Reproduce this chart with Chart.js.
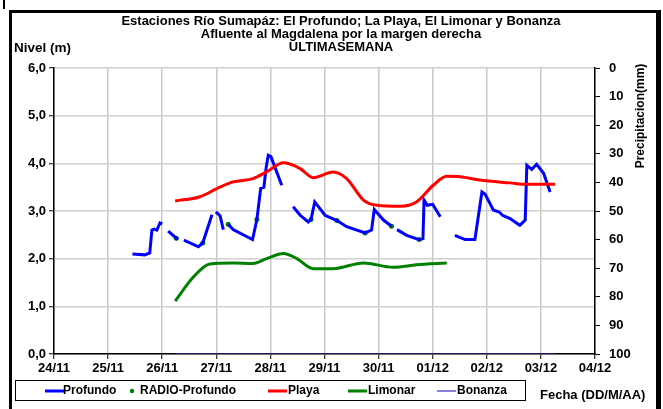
<!DOCTYPE html>
<html>
<head>
<meta charset="utf-8">
<script src="https://cdn.jsdelivr.net/npm/chart.js@4"></script>
<style>
  html, body { margin: 0; padding: 0; background: #fff; }
  #wrap { position: relative; width: 663px; height: 409px; }
</style>
</head>
<body>
<div id="wrap"><canvas id="myChart" width="663" height="409"></canvas></div>
<script>
// x = days since 24/11 00:00
const xLabels = ['24/11', '25/11', '26/11', '27/11', '28/11', '29/11', '30/11', '01/12', '02/12', '03/12', '04/12'];

// Profundo (null = gap in the record)
const profundoX = [1.45, 1.68, 1.77, 1.81, 1.85, 1.90, 1.96, 2.00, 2.05,
  2.11, 2.26, 2.29, 2.35,
  2.40, 2.67, 2.75, 2.92, 2.95,
  2.99, 3.07, 3.13, 3.18,
  3.22, 3.31, 3.67, 3.75, 3.82, 3.88, 3.92, 3.96, 4.01, 4.21, 4.30,
  4.42, 4.55, 4.70, 4.75, 4.82, 5.01, 5.23, 5.41, 5.75, 5.87, 5.92, 6.09, 6.24, 6.29,
  6.34, 6.52, 6.75, 6.82, 6.84, 6.90, 7.00, 7.14, 7.30,
  7.41, 7.60, 7.78, 7.91, 7.97, 8.12, 8.23, 8.29, 8.43, 8.61, 8.71, 8.74, 8.83, 8.92, 9.05, 9.17];
const profundoY = [2.10, 2.08, 2.12, 2.60, 2.62, 2.60, 2.75, 2.73, null,
  2.58, 2.43, 2.40, null,
  2.39, 2.25, 2.33, 2.92, null,
  2.98, 2.90, 2.61, null,
  2.72, 2.61, 2.40, 2.82, 3.47, 3.50, 3.90, 4.17, 4.14, 3.54, null,
  3.09, 2.91, 2.77, 2.82, 3.19, 2.91, 2.80, 2.67, 2.54, 2.60, 3.03, 2.81, 2.68, null,
  2.61, 2.49, 2.40, 2.42, 3.23, 3.12, 3.14, 2.88, null,
  2.49, 2.40, 2.40, 3.40, 3.35, 3.02, 2.98, 2.91, 2.84, 2.70, 2.81, 3.96, 3.87, 3.98, 3.79, 3.40];

// RADIO-Profundo
const radioX = [2.26, 2.75, 3.22, 3.75, 4.75, 5.23, 5.75, 6.24, 6.75];
const radioY = [2.43, 2.33, 2.72, 2.82, 2.82, 2.80, 2.54, 2.68, 2.40];

// Playa
const playaX = [2.24, 2.70, 3.01, 3.31, 3.68, 3.93, 4.24, 4.55, 4.79, 5.16, 5.41, 5.72, 5.97, 6.40, 6.70, 7.01, 7.26, 7.51, 7.87, 8.43, 8.74, 9.26];
const playaY = [3.21, 3.30, 3.47, 3.61, 3.68, 3.82, 4.01, 3.89, 3.70, 3.82, 3.68, 3.23, 3.12, 3.10, 3.19, 3.54, 3.73, 3.72, 3.65, 3.59, 3.56, 3.56];

// Limonar
const limonarX = [2.24, 2.58, 2.88, 3.31, 3.68, 3.93, 4.24, 4.49, 4.79, 5.16, 5.72, 6.27, 6.70, 7.26];
const limonarY = [1.11, 1.62, 1.89, 1.91, 1.90, 2.00, 2.11, 2.00, 1.79, 1.79, 1.91, 1.82, 1.87, 1.91];

// Bonanza
const bonanzaX = [2.24, 9.26];
const bonanzaY = [0, 0];

const titleLines = ['Estaciones Río Sumapáz: El Profundo; La Playa, El Limonar y Bonanza',
  'Afluente al Magdalena por la margen derecha', 'ÚLTIMASEMANA'];

function pts(xs, ys) {
  return xs.map((x, i) => ({ x: x, y: ys[i] }));
}

const FONT = '"Liberation Sans", Arial, sans-serif';

const decor = {
  id: 'decor',
  afterDraw(chart) {
    const ctx = chart.ctx;
    ctx.save();
    // frame
    ctx.fillStyle = '#000';
    ctx.fillRect(3, 0, 2, 9);
    ctx.fillRect(9, 10, 3, 399);
    ctx.fillRect(9, 10, 652, 3);
    ctx.fillRect(656, 10, 5, 399);

    ctx.fillStyle = '#000';
    ctx.textAlign = 'center';
    ctx.textBaseline = 'middle';
    ctx.font = 'bold 13px ' + FONT;
    ctx.fillText(titleLines[0], 341, 21);
    ctx.fillText(titleLines[1], 341, 34);
    ctx.fillText(titleLines[2], 341, 47);

    ctx.textAlign = 'left';
    ctx.font = 'bold 13.5px ' + FONT;
    ctx.fillText('Nivel (m)', 14, 48);

    ctx.save();
    ctx.translate(641, 116);
    ctx.rotate(-Math.PI / 2);
    ctx.textAlign = 'center';
    ctx.font = 'bold 12px ' + FONT;
    ctx.fillText('Precipitacion(mm)', 0, 0);
    ctx.restore();

    // legend
    ctx.strokeStyle = '#000';
    ctx.lineWidth = 1;
    ctx.strokeRect(15.5, 380.5, 510, 20);
    ctx.font = 'bold 12px ' + FONT;
    ctx.textAlign = 'left';
    const ly = 391;
    const items = [
      { t: 'line', c: '#0000ff', w: 3, x: 45, tx: 63, label: 'Profundo' },
      { t: 'dot', c: '#008000', x: 132, tx: 140, label: 'RADIO-Profundo' },
      { t: 'line', c: '#ff0000', w: 3, x: 268, tx: 288, label: 'Playa' },
      { t: 'line', c: '#008000', w: 3, x: 348, tx: 368, label: 'Limonar' },
      { t: 'line', c: '#3333cc', w: 1.2, x: 437, tx: 457, label: 'Bonanza' }
    ];
    items.forEach(it => {
      if (it.t === 'line') {
        ctx.strokeStyle = it.c;
        ctx.lineWidth = it.w;
        ctx.beginPath();
        ctx.moveTo(it.x, ly);
        ctx.lineTo(it.x + 19, ly);
        ctx.stroke();
      } else {
        ctx.fillStyle = it.c;
        ctx.beginPath();
        ctx.arc(it.x, ly, 2.2, 0, Math.PI * 2);
        ctx.fill();
      }
      ctx.fillStyle = '#000';
      ctx.fillText(it.label, it.tx, ly);
    });
    ctx.font = 'bold 13px ' + FONT;
    ctx.fillText('Fecha (DD/M/AA)', 540, 395);
    ctx.restore();
  }
};

const tickFont = { family: FONT, size: 13, weight: 'bold' };

const config = {
  type: 'line',
  data: {
    datasets: [
      { label: 'Bonanza', data: pts(bonanzaX, bonanzaY), borderColor: '#3333cc', borderWidth: 1.2, pointRadius: 0, tension: 0 },
      { label: 'Limonar', data: pts(limonarX, limonarY), borderColor: '#008000', borderWidth: 3, pointRadius: 0, cubicInterpolationMode: 'monotone' },
      { label: 'Playa', data: pts(playaX, playaY), borderColor: '#ff0000', borderWidth: 3, pointRadius: 0, cubicInterpolationMode: 'monotone' },
      { label: 'Profundo', data: pts(profundoX, profundoY), borderColor: '#0000ff', borderWidth: 3, pointRadius: 0, tension: 0, spanGaps: false },
      { label: 'RADIO-Profundo', data: pts(radioX, radioY), showLine: false, pointRadius: 2.5, pointBackgroundColor: '#008000', pointBorderWidth: 0, borderColor: '#008000' }
    ]
  },
  options: {
    responsive: false,
    animation: false,
    events: [],
    layout: { padding: { top: 68, left: 0, right: 0, bottom: 0 } },
    plugins: { legend: { display: false }, title: { display: false }, tooltip: { enabled: false } },
    scales: {
      x: {
        type: 'linear', min: 0, max: 10,
        afterFit: s => { s.height = 55; },
        ticks: { stepSize: 1, color: '#000', font: tickFont, maxRotation: 0, padding: 2,
          callback: v => xLabels[v] },
        grid: { color: '#c8c8c8', lineWidth: 1.5, tickColor: '#000', tickLength: 5, tickWidth: 1 },
        border: { color: '#000', width: 1.5 }
      },
      y: {
        position: 'left', min: 0, max: 6,
        afterFit: s => { s.width = 54; },
        ticks: { stepSize: 1, color: '#000', font: tickFont, padding: 3,
          callback: v => v.toFixed(1).replace('.', ',') },
        grid: { color: '#d0d0d0', lineWidth: 1.5, tickColor: '#000', tickLength: 5, tickWidth: 1 },
        border: { color: '#000', width: 1.5 }
      },
      y2: {
        position: 'right', min: 0, max: 100, reverse: true,
        afterFit: s => { s.width = 68; },
        ticks: { stepSize: 10, color: '#000', font: tickFont, padding: 9 },
        grid: { drawOnChartArea: false, tickColor: '#000', tickLength: 5, tickWidth: 1 },
        border: { color: '#000', width: 1.5 }
      }
    }
  },
  plugins: [decor]
};

const chart = new Chart(document.getElementById('myChart'), config);
</script>
</body>
</html>
